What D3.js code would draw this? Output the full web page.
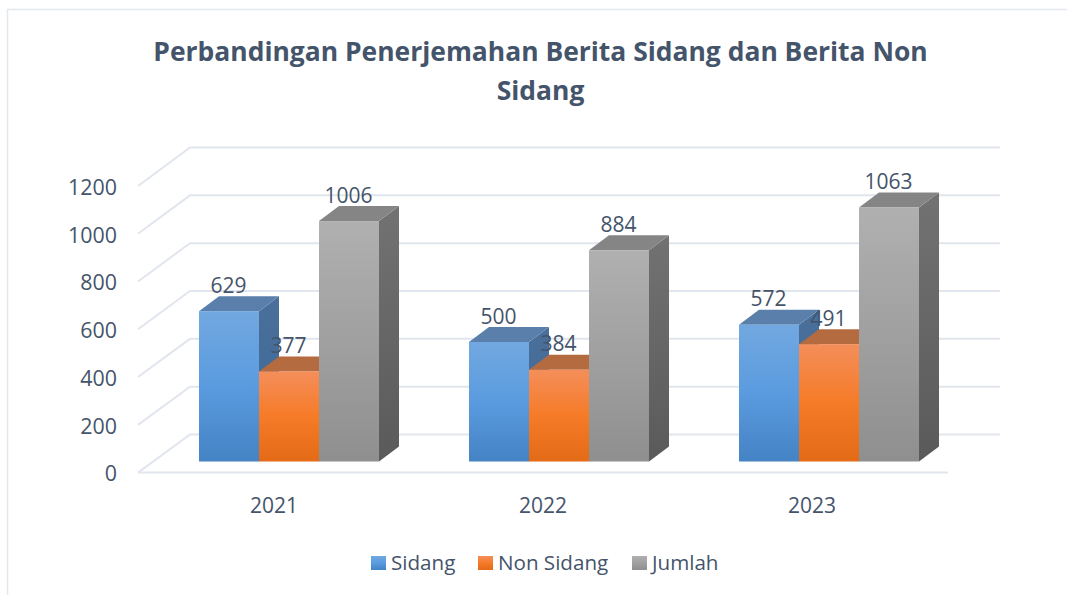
<!DOCTYPE html>
<html><head><meta charset="utf-8">
<script src="https://cdn.jsdelivr.net/npm/d3@7"></script>
<style>
html,body{margin:0;padding:0;background:#fff;overflow:hidden}
svg{display:block}
text{font-family:"Open Sans",sans-serif;fill:#44546a}
</style></head><body>
<svg id="c" width="1067" height="595"></svg>
<script>
const titleLines = ["Perbandingan Penerjemahan Berita Sidang dan Berita Non", "Sidang"];
const categories = ["2021", "2022", "2023"];
const seriesNames = ["Sidang", "Non Sidang", "Jumlah"];
const sidang = [629, 500, 572];
const nonSidang = [377, 384, 491];
const jumlah = [1006, 884, 1063];
const yTicks = [0, 200, 400, 600, 800, 1000, 1200];

const seriesValues = [sidang, nonSidang, jumlah];
const W = 1067, H = 595;
const depthX = 20, depthY = 15;
const svg = d3.select("#c");
const defs = svg.append("defs");

const palette = [
  {front:["#72a8e0","#5a9bdf","#4483c4"], top:"#5a7fab", side:["#4a6f9a","#3c6a98"]},
  {front:["#f48e5a","#f67b28","#e36a16"], top:"#b56b40", side:["#a85f35","#9a5426"]},
  {front:["#b0b0b0","#a0a0a0","#8f8f8f"], top:"#858585", side:["#727272","#5a5a5a"]}
];
palette.forEach((p,i)=>{
  const g = defs.append("linearGradient").attr("id","f"+i).attr("x1",0).attr("x2",0).attr("y1",0).attr("y2",1);
  p.front.forEach((c,k)=>g.append("stop").attr("offset",k/2).attr("stop-color",c));
  const s = defs.append("linearGradient").attr("id","s"+i).attr("x1",0).attr("x2",0).attr("y1",0).attr("y2",1);
  p.side.forEach((c,k)=>s.append("stop").attr("offset",k).attr("stop-color",c));
});

// chart frame
svg.append("path").attr("d",`M7.5,${H} V9.5 H${W}`).attr("fill","none").attr("stroke","#e4e7ef").attr("stroke-width",1.5);

// title
svg.append("g").selectAll("text").data(titleLines).join("text")
  .attr("x",540.5).attr("y",(d,i)=>61+i*39).attr("text-anchor","middle")
  .attr("font-size",26.45).attr("font-weight",700).text(d=>d);

// scales
const x = d3.scaleBand().domain(categories).range([139,949]);
const xLabel = d3.scaleBand().domain(categories).range([139.5,946.5]);
const inner = d3.scaleBand().domain(d3.range(3)).range([60,240]); // within each 270px category step
const yMax = 1200;
const yFront = d3.scaleLinear().domain([0,yMax]).range([472.6,186]);
const yBack = d3.scaleLinear().domain([0,yMax]).range([434.5,147.5]);
const yBar = d3.scaleLinear().domain([0,yMax]).range([461.5,174.7]);

// walls / gridlines
const gridCol = "#e1e5ed";
const grid = svg.append("g").attr("fill","none").attr("stroke",gridCol).attr("stroke-width",2);
yTicks.forEach(t=>{
  grid.append("path").attr("d",`M${x.range()[0]-1},${yFront(t)} L190,${yBack(t)} H1000`);
});
grid.append("path").attr("d",`M${x.range()[0]-1},${yFront(0)} H${x.range()[1]-1}`);

// y axis
const yAxis = svg.append("g").attr("transform","translate(125,1.5)")
  .call(d3.axisLeft(yFront).tickValues(yTicks).tickSize(0).tickPadding(8).tickFormat(d3.format("d")));
yAxis.select(".domain").remove();
yAxis.selectAll("text").attr("font-size",21.4).style("font-family",'"Open Sans",sans-serif').style("fill","#44546a");

// x axis
const xAxis = svg.append("g").attr("transform","translate(0,494)")
  .call(d3.axisBottom(xLabel).tickSize(0).tickPadding(4));
xAxis.select(".domain").remove();
xAxis.selectAll("text").attr("font-size",21).style("font-family",'"Open Sans",sans-serif').style("fill","#44546a");

// bars
const bars = svg.append("g");
categories.forEach((cat,ci)=>{
  const x0 = x(cat);
  seriesValues.forEach((vals,si)=>{
    const v = vals[ci];
    const xl = x0 + inner(si), xr = xl + inner.bandwidth();
    const yt = yBar(v), yb = yBar(0);
    const g = bars.append("g");
    g.append("path").attr("d",`M${xr},${yt} L${xr+depthX},${yt-depthY} V${yb-depthY} L${xr},${yb} Z`).attr("fill",`url(#s${si})`);
    g.append("path").attr("d",`M${xl},${yt} L${xl+depthX},${yt-depthY} H${xr+depthX} L${xr},${yt} Z`).attr("fill",palette[si].top);
    g.append("rect").attr("x",xl).attr("y",yt).attr("width",xr-xl).attr("height",yb-yt).attr("fill",`url(#f${si})`);
  });
});

// value labels
const labels = svg.append("g");
categories.forEach((cat,ci)=>{
  seriesValues.forEach((vals,si)=>{
    labels.append("text")
      .attr("x",x(cat)+inner(si)+inner.bandwidth()/2-0.5)
      .attr("y",yBar(vals[ci])-18.5)
      .attr("text-anchor","middle").attr("font-size",21).text(vals[ci]);
  });
});

// legend
const legendSwatchX = [371,478,632];
const lg = svg.append("g");
seriesNames.forEach((n,i)=>{
  lg.append("rect").attr("x",legendSwatchX[i]).attr("y",556).attr("width",15).attr("height",14).attr("fill",`url(#f${i})`);
  lg.append("text").attr("x",legendSwatchX[i]+20).attr("y",570).attr("font-size",20.6).text(n);
});
</script>
</body></html>
